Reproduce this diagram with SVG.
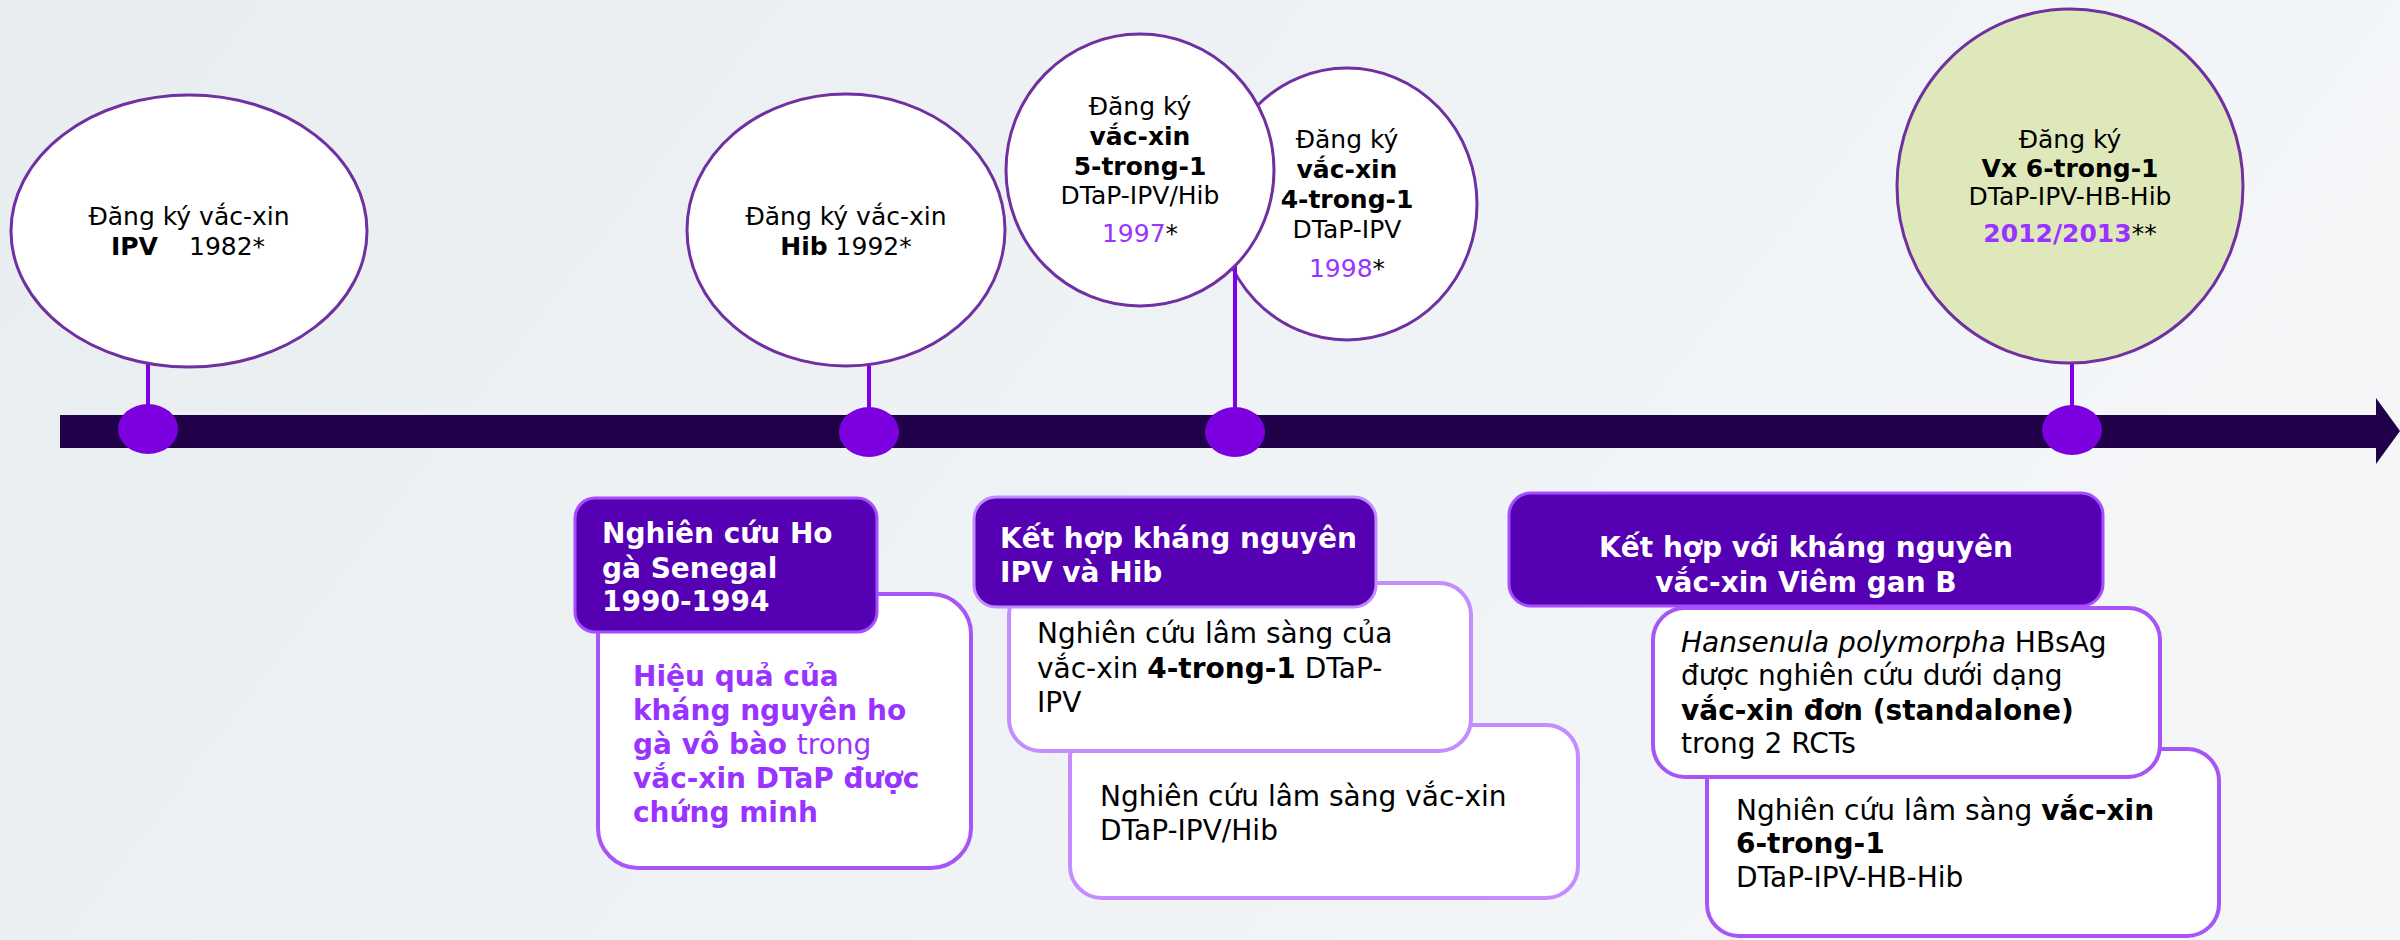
<svg xmlns="http://www.w3.org/2000/svg" width="2400" height="940" viewBox="0 0 2400 940">
<defs>
<linearGradient id="bg" x1="0" y1="0" x2="1" y2="0.3">
<stop offset="0" stop-color="#E8EDF0"/>
<stop offset="0.5" stop-color="#EEF2F5"/>
<stop offset="1" stop-color="#F4F6F8"/>
</linearGradient>
<style>
.circ{fill:#FFFFFF;stroke:#7030A0;stroke-width:3}
.ct{font-family:"DejaVu Sans",Verdana,sans-serif;font-size:25px;fill:#000;text-anchor:middle}
.b{font-weight:bold}
.yr{fill:#9933FF}
.conn{stroke:#7F00E6;stroke-width:4;fill:none}
.dot{fill:#7D00E1}
.hdr{fill:#5500B3;stroke:#A64DFF;stroke-width:3}
.hdr2{fill:#5500B3;stroke:#C28AFF;stroke-width:3}
.box{fill:#FFFFFF;stroke:#A855F7;stroke-width:4}
.box2{fill:#FFFFFF;stroke:#C48CFF;stroke-width:4}
.ht{font-family:"DejaVu Sans",Verdana,sans-serif;font-size:28px;font-weight:bold;fill:#FFFFFF}
.pt{font-family:"DejaVu Sans",Verdana,sans-serif;font-size:28px;font-weight:bold;fill:#9933FF}
.tt{font-family:"DejaVu Sans",Verdana,sans-serif;font-size:28px;fill:#000}
</style>
</defs>
<rect width="2400" height="940" fill="url(#bg)"/>

<g id="node-4in1">
<ellipse class="circ" cx="1347" cy="204" rx="130" ry="136"/>
<text class="ct" x="1347" y="148">Đăng ký</text>
<text class="ct b" x="1347" y="178">vắc-xin</text>
<text class="ct b" x="1347" y="208">4-trong-1</text>
<text class="ct" x="1347" y="238">DTaP-IPV</text>
<text class="ct" x="1347" y="277"><tspan class="yr">1998</tspan>*</text>
</g>

<g id="timeline">
<rect x="60" y="415" width="2318" height="33" fill="#21004A"/>
<polygon points="2376,398 2400,431 2376,464" fill="#21004A"/>
</g>

<g id="connectors">
<line class="conn" x1="148" y1="355" x2="148" y2="420"/>
<line class="conn" x1="869" y1="355" x2="869" y2="420"/>
<line class="conn" x1="1235" y1="250" x2="1235" y2="420"/>
<line class="conn" x1="2072" y1="355" x2="2072" y2="420"/>
</g>

<g id="dots">
<ellipse class="dot" cx="148" cy="429" rx="30" ry="25"/>
<ellipse class="dot" cx="869" cy="432" rx="30" ry="25"/>
<ellipse class="dot" cx="1235" cy="432" rx="30" ry="25"/>
<ellipse class="dot" cx="2072" cy="430" rx="30" ry="25"/>
</g>

<g id="node-ipv">
<ellipse class="circ" cx="189" cy="231" rx="178" ry="136"/>
<text class="ct" x="189" y="225">Đăng ký vắc-xin</text>
<text class="ct" x="111" y="255" style="text-anchor:start"><tspan class="b">IPV</tspan><tspan x="189">1982*</tspan></text>
</g>

<g id="node-hib">
<ellipse class="circ" cx="846" cy="230" rx="159" ry="136"/>
<text class="ct" x="846" y="225">Đăng ký vắc-xin</text>
<text class="ct" x="846" y="255"><tspan class="b">Hib</tspan> 1992*</text>
</g>

<g id="node-5in1">
<ellipse class="circ" cx="1140" cy="170" rx="134" ry="136"/>
<text class="ct" x="1140" y="115">Đăng ký</text>
<text class="ct b" x="1140" y="145">vắc-xin</text>
<text class="ct b" x="1140" y="175">5-trong-1</text>
<text class="ct" x="1140" y="204">DTaP-IPV/Hib</text>
<text class="ct" x="1140" y="242"><tspan class="yr">1997</tspan>*</text>
</g>

<g id="node-6in1">
<ellipse cx="2070" cy="186" rx="173" ry="177" fill="#DFE8BA" stroke="#7030A0" stroke-width="3"/>
<text class="ct" x="2070" y="148">Đăng ký</text>
<text class="ct b" x="2070" y="177">Vx 6-trong-1</text>
<text class="ct" x="2070" y="205">DTaP-IPV-HB-Hib</text>
<text class="ct" x="2070" y="242"><tspan class="yr b">2012/2013</tspan>**</text>
</g>

<g id="box-senegal">
<rect class="box" x="598" y="594" width="373" height="274" rx="40"/>
<text class="pt" x="633" y="686">Hiệu quả của</text>
<text class="pt" x="633" y="720">kháng nguyên ho</text>
<text class="pt" x="633" y="754">gà vô bào <tspan font-weight="normal">trong</tspan></text>
<text class="pt" x="633" y="788">vắc-xin DTaP được</text>
<text class="pt" x="633" y="822">chứng minh</text>
</g>
<g id="hdr-senegal">
<rect class="hdr" x="575" y="498" width="302" height="134" rx="20"/>
<text class="ht" x="602" y="543">Nghiên cứu Ho</text>
<text class="ht" x="602" y="578">gà Senegal</text>
<text class="ht" x="602" y="611">1990-1994</text>
</g>

<g id="box-dtap-ipv-hib">
<rect class="box2" x="1070" y="725" width="508" height="173" rx="32"/>
<text class="tt" x="1100" y="806">Nghiên cứu lâm sàng vắc-xin</text>
<text class="tt" x="1100" y="840">DTaP-IPV/Hib</text>
</g>
<g id="box-dtap-ipv">
<rect class="box2" x="1009" y="583" width="462" height="168" rx="32"/>
<text class="tt" x="1037" y="643">Nghiên cứu lâm sàng của</text>
<text class="tt" x="1037" y="678">vắc-xin <tspan font-weight="bold">4-trong-1</tspan> DTaP-</text>
<text class="tt" x="1037" y="712">IPV</text>
</g>
<g id="hdr-ipv-hib">
<rect class="hdr2" x="974" y="497" width="402" height="110" rx="22"/>
<text class="ht" x="1000" y="548">Kết hợp kháng nguyên</text>
<text class="ht" x="1000" y="582">IPV và Hib</text>
</g>

<g id="box-6in1-study">
<rect class="box" x="1707" y="749" width="512" height="187" rx="32"/>
<text class="tt" x="1736" y="820">Nghiên cứu lâm sàng <tspan font-weight="bold">vắc-xin</tspan></text>
<text class="tt" x="1736" y="853" font-weight="bold">6-trong-1</text>
<text class="tt" x="1736" y="887">DTaP-IPV-HB-Hib</text>
</g>
<g id="box-hbsag">
<rect class="box" x="1653" y="608" width="507" height="169" rx="32"/>
<text class="tt" x="1681" y="652"><tspan font-style="italic">Hansenula polymorpha</tspan> HBsAg</text>
<text class="tt" x="1681" y="685">được nghiên cứu dưới dạng</text>
<text class="tt" x="1681" y="720" font-weight="bold">vắc-xin đơn (standalone)</text>
<text class="tt" x="1681" y="753">trong 2 RCTs</text>
</g>
<g id="hdr-hepb">
<rect class="hdr" x="1509" y="493" width="594" height="113" rx="22"/>
<text class="ht" x="1806" y="557" text-anchor="middle">Kết hợp với kháng nguyên</text>
<text class="ht" x="1806" y="592" text-anchor="middle">vắc-xin Viêm gan B</text>
</g>
</svg>
